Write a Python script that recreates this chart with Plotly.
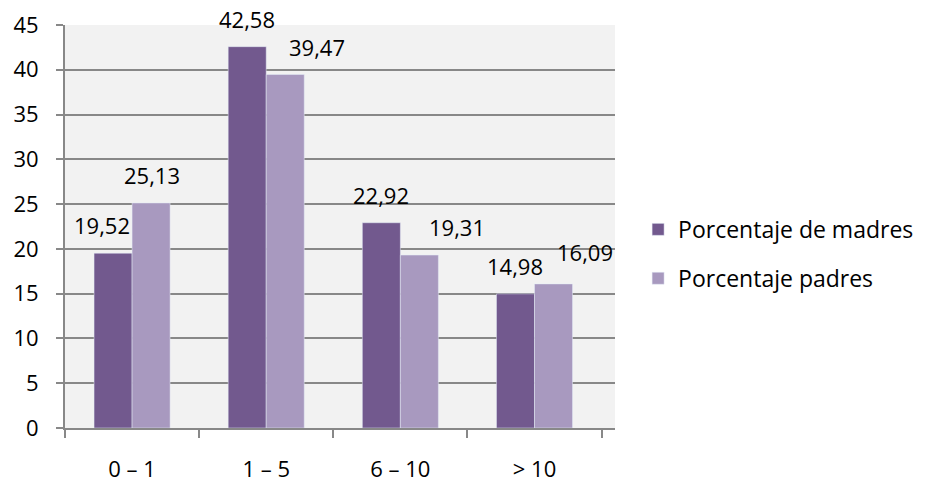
import plotly.graph_objects as go

categories = ["0 – 1", "1 – 5", "6 – 10", "> 10"]
madres = [19.52, 42.58, 22.92, 14.98]
padres = [25.13, 39.47, 19.31, 16.09]
series_names = ["Porcentaje de madres", "Porcentaje padres"]
y_ticks = [0, 5, 10, 15, 20, 25, 30, 35, 40, 45]

# manual label nudges (px), as in the original chart
madres_dx = [-11, 0, 0, 0]
padres_dx = [0, 31, 37, 31]
padres_dy = [0, 0, 0, 4]

DARK = "#72598E"
LIGHT = "#A899BF"
GRID = "#888888"
FONT = "Open Sans"
FS = 22

fig = go.Figure()
fig.add_trace(go.Bar(x=categories, y=madres, name=series_names[0], marker_color=DARK,
                     legendgroup="a"))
fig.add_trace(go.Bar(x=categories, y=padres, name=series_names[1], marker_color=LIGHT,
                     legendgroup="b"))

def fmt(v):
    return f"{v:.2f}".replace(".", ",")

half = 19.5
for i, c in enumerate(categories):
    fig.add_annotation(x=c, y=madres[i], xref="x", yref="y", text=fmt(madres[i]),
                       showarrow=False, xshift=-half + madres_dx[i], yshift=28,
                       yanchor="middle", font=dict(family=FONT, size=FS, color="#000"))
    fig.add_annotation(x=c, y=padres[i], xref="x", yref="y", text=fmt(padres[i]),
                       showarrow=False, xshift=half + padres_dx[i], yshift=28 + padres_dy[i],
                       yanchor="middle", font=dict(family=FONT, size=FS, color="#000"))

fig.update_layout(
    width=926, height=482,
    margin=dict(l=65, r=311, t=25, b=54, autoexpand=False),
    paper_bgcolor="white",
    plot_bgcolor="#F2F2F2",
    barmode="group",
    bargap=0.433,
    bargroupgap=0,
    font=dict(family=FONT, size=FS, color="#000"),
    legend=dict(x=1.042, y=0.432, xanchor="left", yanchor="middle",
                font=dict(family=FONT, size=23, color="#000"),
                traceorder="grouped", tracegroupgap=16, itemwidth=30,
                bgcolor="rgba(0,0,0,0)"),
    showlegend=True,
)
fig.update_xaxes(
    type="category", tickson="boundaries", ticks="outside", ticklen=8,
    tickcolor=GRID, tickwidth=2, showline=True, linecolor=GRID, linewidth=2,
    showgrid=False, ticklabelstandoff=21, automargin=False,
    tickfont=dict(family=FONT, size=FS, color="#000"),
)
fig.update_yaxes(
    range=[0, 45], tickvals=y_ticks, ticks="outside", ticklen=7,
    tickcolor=GRID, tickwidth=2, showline=True, linecolor=GRID, linewidth=2,
    showgrid=True, gridcolor=GRID, gridwidth=2, zeroline=False,
    ticklabelstandoff=13, automargin=False,
    tickfont=dict(family=FONT, size=FS, color="#000"),
)

# remove the page's default 8px body margin so the figure fills the window
fig.write_html("out.html", config={"displayModeBar": False},
               post_script="document.body.style.margin='0';")
